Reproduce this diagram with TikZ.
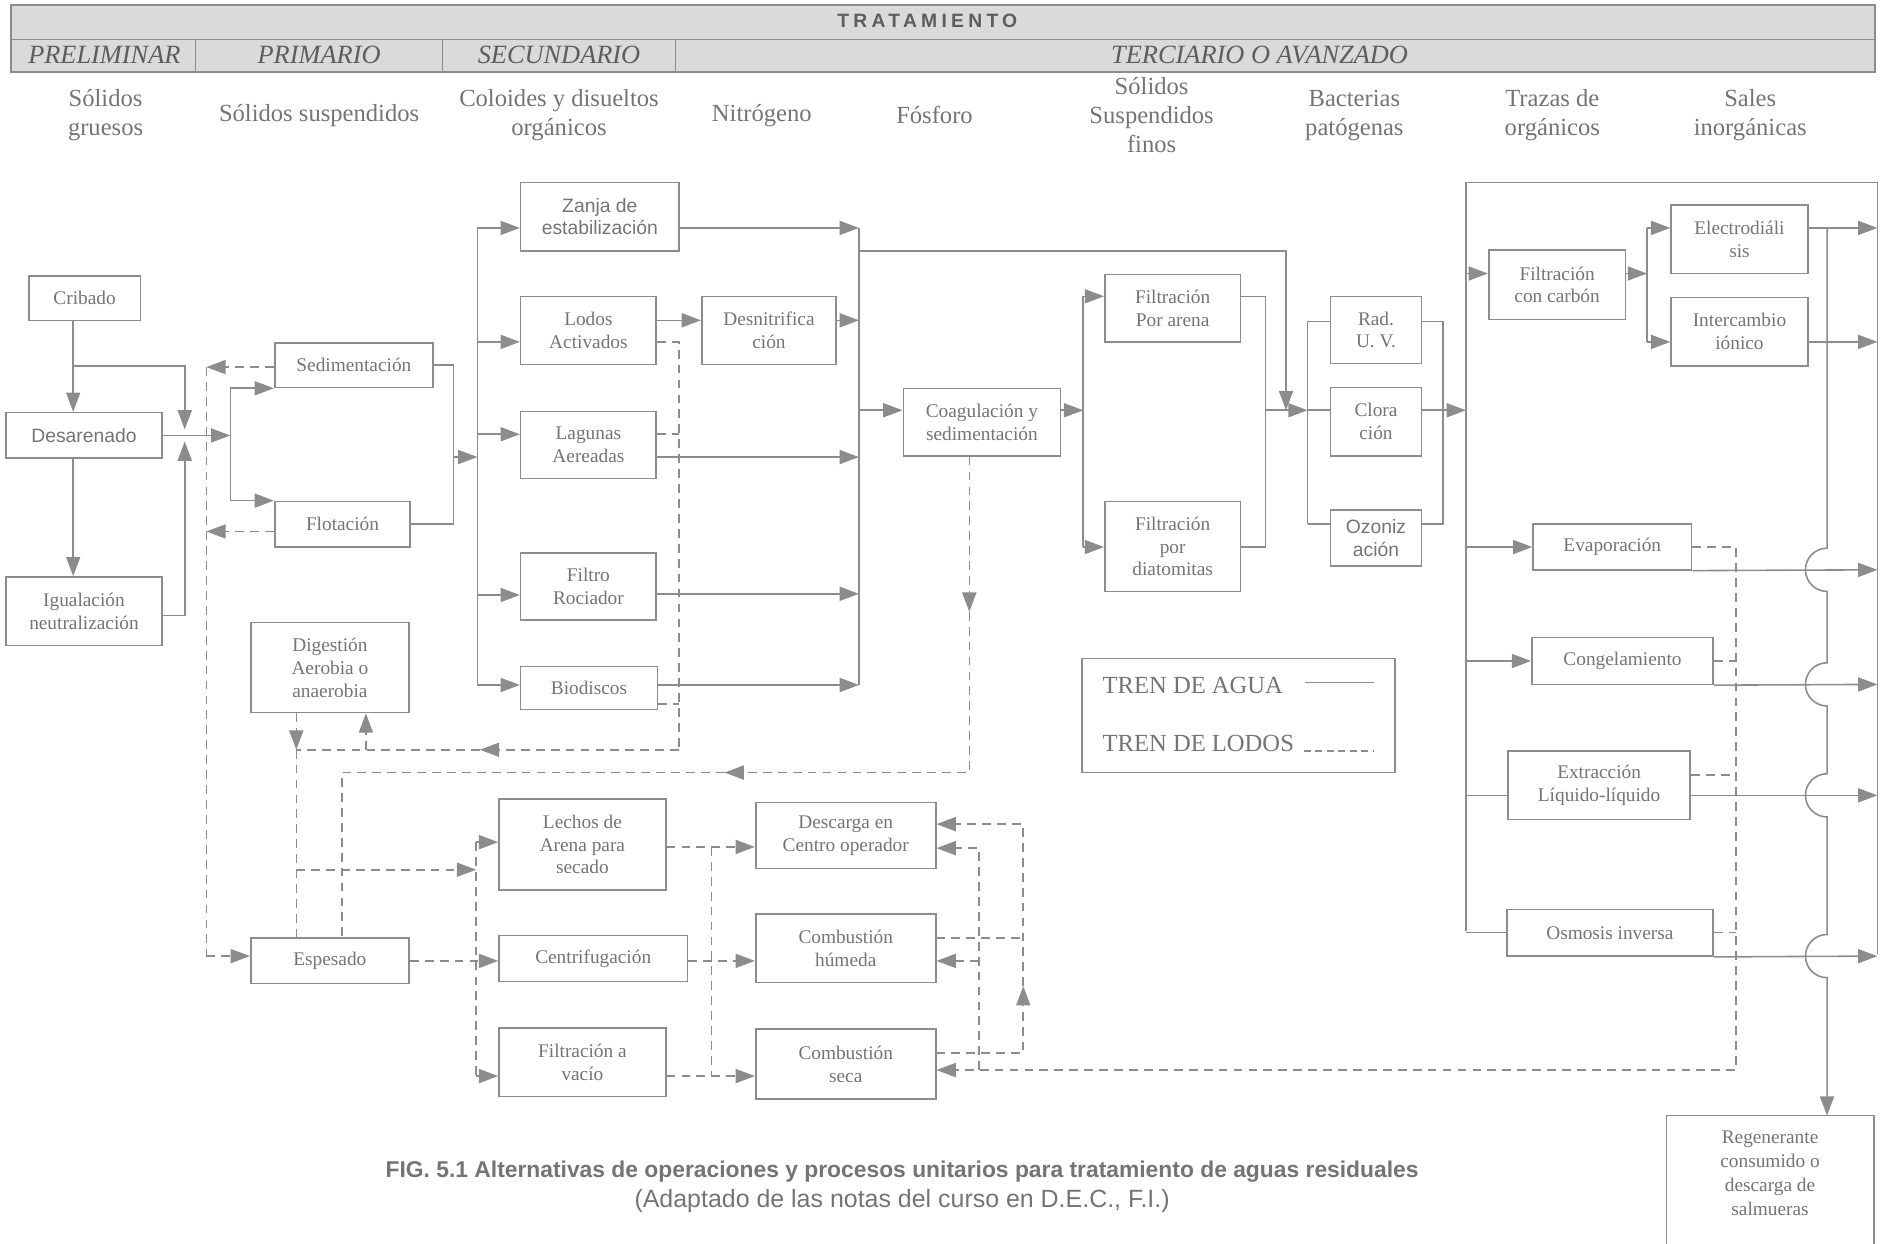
\documentclass[tikz,border=0pt]{standalone}
\usepackage{fontspec}
\setmainfont{Liberation Serif}
\setsansfont{Liberation Sans}
\newfontfamily\trackfont[LetterSpace=22]{Liberation Sans}
\usetikzlibrary{arrows.meta}

\definecolor{lgray}{HTML}{8C8C8C}
\definecolor{tgray}{HTML}{747474}
\definecolor{bandgray}{HTML}{DADADA}

\begin{document}
\begin{tikzpicture}[x=0.024cm, y=-0.024cm, >={Triangle[length=11pt, width=8pt]},
    agua/.style={draw=lgray, line width=0.9pt},
    lodo/.style={agua, dash pattern=on 5pt off 3.5pt},
    box/.style={agua, text=tgray, align=center, inner sep=0pt,
      font=\fontsize{11}{13}\selectfont},
    sbox/.style={box, font=\sffamily\fontsize{11}{13}\selectfont},
    wh/.style 2 args={minimum width=#1*0.024cm, minimum height=#2*0.024cm},
    head/.style={text=tgray, align=center, font=\fontsize{14}{16.4}\selectfont},
    etapa/.style={text=tgray!80!black, font=\itshape\fontsize{15}{17}\selectfont}]
  \useasboundingbox (0,0) rectangle (1568,1037);

  % Encabezado
  \fill[bandgray] (9,4) rectangle (1563,60);
  \draw[agua] (9,4) rectangle (1563,60);
  \draw[agua] (9,33) -- (1563,33);
  \foreach \x in {163,369,563}
    \draw[agua] (\x,33) -- (\x,60);
  \node[text=tgray!80!black, font=\trackfont\bfseries\fontsize{11}{13}\selectfont] (trat) at (773,17) {TRATAMIENTO};
  \node[etapa] (prel) at (87,46) {PRELIMINAR};
  \node[etapa] (prim) at (266,46) {PRIMARIO};
  \node[etapa] (secu) at (466,46) {SECUNDARIO};
  \node[etapa] (terc) at (1050,46) {TERCIARIO O AVANZADO};

  % Contaminantes
  \node[head] (h1) at (88,96) {Sólidos\\gruesos};
  \node[head] (h2) at (266,96) {Sólidos suspendidos};
  \node[head] (h3) at (466,96) {Coloides y disueltos\\orgánicos};
  \node[head] (h4) at (635,96) {Nitrógeno};
  \node[head] (h5) at (779,96) {Fósforo};
  \node[head] (h6) at (960,96) {Sólidos\\Suspendidos\\finos};
  \node[head] (h7) at (1129,96) {Bacterias\\patógenas};
  \node[head] (h8) at (1294,96) {Trazas de\\orgánicos};
  \node[head] (h9) at (1459,96) {Sales\\inorgánicas};

  % Procesos
  \node[box, wh={93}{37}] (crib) at (70.5,248.5) {Cribado};
  \node[sbox, wh={130}{38}] (desar) at (70,363) {Desarenado};
  \node[box, wh={130}{57}] (igual) at (70,509.5) {Igualación\\neutralización};
  \node[box, wh={132}{37}] (sedim) at (295,304.5) {Sedimentación};
  \node[box, wh={113}{38}] (flot) at (285.5,437) {Flotación};
  \node[sbox, wh={132}{57}] (zanja) at (500,180.5) {Zanja de\\estabilización};
  \node[box, wh={113}{57}] (lodos) at (490.5,275.5) {Lodos\\Activados};
  \node[box, wh={112}{57}] (desn) at (641,275.5) {Desnitrifica\\ción};
  \node[box, wh={113}{56}] (lagun) at (490.5,371) {Lagunas\\Aereadas};
  \node[box, wh={113}{56}] (filro) at (490.5,489) {Filtro\\Rociador};
  \node[box, wh={114}{36}] (biod) at (491,573.5) {Biodiscos};
  \node[box, wh={131}{56}] (coag) at (818.5,352) {Coagulación y\\sedimentación};
  \node[box, wh={113}{56}] (farena) at (977.5,257) {Filtración\\Por arena};
  \node[box, wh={113}{75}] (fdiat) at (977.5,455.5) {Filtración\\por\\diatomitas};
  \node[box, wh={76}{56}] (raduv) at (1147,275) {Rad.\\U. V.};
  \node[box, wh={76}{57}] (clora) at (1147,351.5) {Clora\\ción};
  \node[sbox, wh={76}{47}] (ozon) at (1147,448.5) {Ozoniz\\ación};
  \node[box, wh={114}{58}] (fcarb) at (1298,237.5) {Filtración\\con carbón};
  \node[box, wh={114}{57}] (electro) at (1450,199.5) {Electrodiáli\\sis};
  \node[box, wh={114}{57}] (inter) at (1450,276.5) {Intercambio\\iónico};
  \node[box, wh={132}{38}] (evap) at (1344,456) {Evaporación};
  \node[box, wh={151}{39}] (cong) at (1352.5,551) {Congelamiento};
  \node[box, wh={152}{57}] (extr) at (1333,654.5) {Extracción\\Líquido-líquido};
  \node[box, wh={172}{39}] (osmo) at (1342,777.5) {Osmosis inversa};
  \node[box, draw=none, font=\fontsize{11}{13.7}\selectfont] (regen) at (1475.5,978) {Regenerante\\consumido o\\descarga de\\salmueras};

  % Lodos
  \node[box, wh={132}{75}] (diges) at (275,556.5) {Digestión\\Aerobia o\\anaerobia};
  \node[box, wh={132}{38}] (espes) at (275,801) {Espesado};
  \node[box, wh={139}{76}] (lechos) at (485.5,704) {Lechos de\\Arena para\\secado};
  \node[box, wh={157}{38}] (centr) at (494.5,799) {Centrifugación};
  \node[box, wh={139}{57}] (fvac) at (485.5,885.5) {Filtración a\\vacío};
  \node[box, wh={150}{55}] (desc) at (705,696.5) {Descarga en\\Centro operador};
  \node[box, wh={150}{57}] (chum) at (705,790.5) {Combustión\\húmeda};
  \node[box, wh={150}{58}] (cseca) at (705,887) {Combustión\\seca};

  % Tren de agua: pretratamiento y primario
  \coordinate (cr) at (61,305);
  \coordinate (bwtop) at (154,305);
  \coordinate (bwbot) at (154,513);
  \coordinate (bwn) at (154,358);
  \coordinate (bws) at (154,368);
  \coordinate (prim) at (192,363);
  \draw[agua,->] (crib.south -| cr) -- (desar.north -| cr);
  \draw[agua,->] (desar.south -| cr) -- (igual.north -| cr);
  \draw[agua,->] (cr) -- (bwtop) -- (bwn);
  \draw[agua,->] (igual.east |- bwbot) -- (bwbot) -- (bws);
  \draw[agua,->] (desar.east) -- (prim);
  \draw[agua] (sedim.south west -| prim) -- (flot.north west -| prim);
  \draw[agua,->] (sedim.south west -| prim) -- (sedim.south west);
  \draw[agua,->] (flot.north west -| prim) -- (flot.north west);
  \coordinate (sal1) at (378,381);
  \coordinate (sec) at (398,381);
  \draw[agua] (sedim.east) -| (sal1) |- (flot.east);
  \draw[agua,->] (sal1) -- (sec);

  % Secundario
  \draw[agua] (398,190) -- (398,571);
  \foreach \n/\y in {zanja/190, lodos/285, lagun/362, filro/496, biod/571}
    \draw[agua,->] (sec |- 0,\y) -- (\n.west |- 0,\y);
  \draw[agua,->] (lodos.east |- 0,267) -- (desn.west |- 0,267);
  \coordinate (col) at (716,342);
  \draw[agua] (716,190) -- (716,571);
  \foreach \n/\y in {zanja/190, desn/267, lagun/381, filro/495, biod/571}
    \draw[agua,->] (\n.east |- 0,\y) -- (col |- 0,\y);
  \draw[agua,->] (col) -- (coag.west |- col);
  \draw[agua,->] (col |- 0,209) -| (1072,342);

  % Terciario: filtracion y desinfeccion
  \coordinate (fil) at (903,342);
  \draw[agua,->] (coag.east |- fil) -- (fil);
  \draw[agua] (903,247) -- (903,456);
  \draw[agua,->] (fil |- 0,247) -- (farena.west |- 0,247);
  \draw[agua,->] (fil |- 0,456) -- (fdiat.west |- 0,456);
  \draw[agua] (farena.east |- 0,247) -| (1055,456) -- (fdiat.east |- 0,456);
  \coordinate (des) at (1090,342);
  \draw[agua,->] (1055,342) -- (des);
  \draw[agua] (1090,268) -- (1090,437);
  \draw[agua] (des |- 0,268) -- (raduv.west |- 0,268);
  \draw[agua] (des) -- (clora.west |- des);
  \draw[agua] (des |- 0,437) -- (ozon.west |- 0,437);
  \draw[agua] (raduv.east |- 0,268) -| (1203,437) -- (ozon.east |- 0,437);
  \coordinate (ter) at (1222,342);
  \draw[agua,->] (clora.east |- ter) -- (ter);

  % Terciario: sales y organicos
  \draw[agua] (1222,776) -- (1222,152) -- (1565,152) -- (1565,795);
  \draw[agua,->] (ter |- 0,228) -- (fcarb.west |- 0,228);
  \draw[agua,->] (fcarb.east |- 0,228) -- (1373,228);
  \draw[agua] (1373,190) -- (1373,285);
  \draw[agua,->] (1373,190) -- (electro.west |- 0,190);
  \draw[agua,->] (1373,285) -- (inter.west |- 0,285);
  \draw[agua,->] (electro.east |- 0,190) -- (1565,190);
  \draw[agua,->] (inter.east |- 0,285) -- (1565,285);
  \draw[agua,->] (ter |- evap.west) -- (evap.west);
  \draw[agua,->] (ter |- cong.west) -- (cong.west);
  \draw[agua] (ter |- 0,663) -- (extr.west |- 0,663);
  \draw[agua] (ter |- osmo.west) -- (osmo.west);
  \draw[agua,->] (evap.south east) -- (1565,475);
  \draw[agua,->] (cong.south east) -- (1565,570.5);
  \draw[agua,->] (extr.east |- 0,663) -- (1565,663);
  \draw[agua,->] (osmo.south east) -- (1565,797);
  \coordinate (regtop) at (1523,930);
  \draw[agua,->] (1523,190) -- (1523,457)
    arc[start angle=90, end angle=270, radius=0.432cm] -- (1523,552.5)
    arc[start angle=90, end angle=270, radius=0.432cm] -- (1523,645)
    arc[start angle=90, end angle=270, radius=0.432cm] -- (1523,779)
    arc[start angle=90, end angle=270, radius=0.432cm] -- (regtop);
  \draw[agua] (1389,1045) -- (1389,930) -- (1562,930) -- (1562,1045);

  % Tren de lodos
  \draw[lodo] (172,306) -- (172,797);
  \draw[lodo,->] (sedim.west |- 0,306) -- (172,306);
  \draw[lodo,->] (flot.west |- 0,443) -- (172,443);
  \draw[lodo,->] (172,797) -- (espes.west |- 0,797);
  \draw[lodo] (lodos.east |- 0,285) -| (566,625);
  \draw[lodo] (lagun.east |- 0,362) -- (566,362);
  \draw[lodo] (biod.east |- 0,587) -- (566,587);
  \draw[lodo,->] (566,625) -- (400,625);
  \draw[lodo] (400,625) -- (247,625);
  \draw[lodo,->] (305,625) -- (diges.south -| 305,0);
  \draw[lodo,->] (diges.south -| 247,0) -- (247,625);
  \draw[lodo] (247,625) -- (espes.north -| 247,0);
  \draw[lodo,->] (coag.south -| 808,0) -- (808,510);
  \draw[lodo,->] (808,510) -- (808,644) -- (604,644);
  \draw[lodo] (604,644) -| (espes.north -| 285,0);
  \draw[lodo,->] (247,725) -- (397,725);
  \draw[lodo] (397,702) -- (397,897);
  \draw[lodo,->] (397,702) -- (lechos.west |- 0,702);
  \draw[lodo,->] (espes.east) -- (centr.west |- espes.east);
  \draw[lodo,->] (397,897) -- (fvac.west |- 0,897);
  \draw[lodo] (593,706) -- (593,897);
  \draw[lodo,->] (lechos.east |- 0,706) -- (desc.west |- 0,706);
  \draw[lodo,->] (centr.east |- 0,801) -- (chum.west |- 0,801);
  \draw[lodo,->] (fvac.east |- 0,897) -- (cseca.west |- 0,897);
  \draw[lodo,->] (816,892) -- (816,707) -- (desc.east |- 0,707);
  \draw[lodo,->] (816,801) -- (chum.east |- 0,801);
  \draw[lodo] (chum.east |- 0,782) -- (853,782);
  \draw[lodo,->] (cseca.east |- 0,878) -| (853,822);
  \draw[lodo,->] (853,822) |- (desc.east |- 0,687);
  \draw[lodo,->] (evap.east) -| (1447,892) -- (cseca.east |- 0,892);
  \draw[lodo] (cong.east) -- (1447,551);
  \draw[lodo] (extr.east |- 0,646) -- (1447,646);
  \draw[lodo] (osmo.east) -- (1447,777.5);

  % Leyenda
  \node[box, wh={261}{95}] (leyenda) at (1032.5,596.5) {};
  \node[text=tgray, anchor=west, font=\fontsize{14}{16}\selectfont] (tagua) at (914,571) {TREN DE AGUA};
  \node[text=tgray, anchor=west, font=\fontsize{14}{16}\selectfont] (tlodos) at (914,620) {TREN DE LODOS};
  \coordinate (ag1) at (1088,569);
  \coordinate (ag2) at (1145,569);
  \coordinate (lo1) at (1087,626);
  \coordinate (lo2) at (1145,626);
  \draw[agua] (ag1) -- (ag2);
  \draw[agua, dash pattern=on 4pt off 2.5pt] (lo1) -- (lo2);

  % Pie de figura
  \node[text=tgray, font=\sffamily\bfseries\fontsize{13}{15}\selectfont] (pie1) at (752,977)
    {FIG. 5.1 Alternativas de operaciones y procesos unitarios para tratamiento de aguas residuales};
  \node[text=tgray, font=\sffamily\fontsize{14.2}{16}\selectfont] (pie2) at (752,1001)
    {(Adaptado de las notas del curso en D.E.C., F.I.)};
\end{tikzpicture}
\end{document}
